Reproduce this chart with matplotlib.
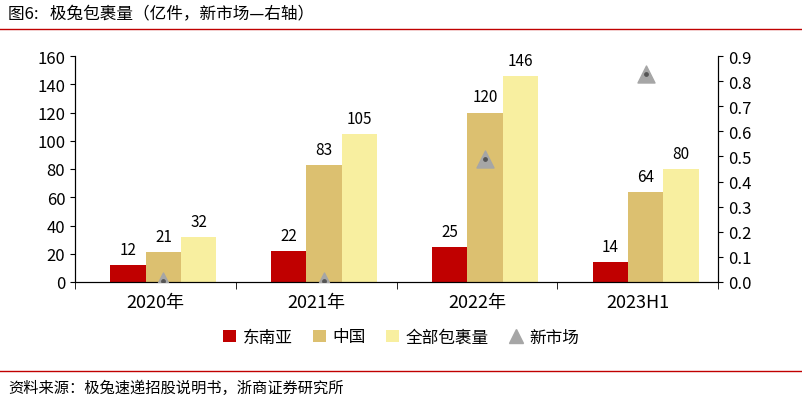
import matplotlib
matplotlib.use("Agg")
import matplotlib.pyplot as plt
import numpy as np

plt.rcParams['font.family'] = ['Noto Sans CJK SC']

categories = ["2020年", "2021年", "2022年", "2023H1"]
sea = [12, 22, 25, 14]
china = [21, 83, 120, 64]
total = [32, 105, 146, 80]
new_market = [0.005, 0.005, 0.49, 0.83]

fig = plt.figure(figsize=(8.02, 4.02), dpi=100)
ax = fig.add_axes([75/802, 1-283/402, (718-75)/802, (283-57)/402])
x = np.arange(len(categories))
off = 0.05
w = 0.22
c1, c2, c3 = "#C00000", "#DCC070", "#F8EFA0"
b1 = ax.bar(x + off - w, sea, w, color=c1)
b2 = ax.bar(x + off, china, w, color=c2)
b3 = ax.bar(x + off + w, total, w, color=c3)
for bars, vals in ((b1, sea), (b2, china), (b3, total)):
    for b, v in zip(bars, vals):
        ax.text(b.get_x() + b.get_width()/2, v + 5, str(v), ha="center", va="bottom", fontsize=11)
ax.set_ylim(0, 160)
ax.set_yticks(range(0, 161, 20))
ax.set_xlim(-0.5, 3.5)
ax.set_xticks(x)
ax.set_xticklabels(categories, fontsize=13)
ax.set_xticks(np.arange(-0.5, 3.6, 1), minor=True)
ax.tick_params(axis="x", which="major", length=0, pad=8)
ax.tick_params(axis="x", which="minor", length=5)
ax.tick_params(axis="y", labelsize=12)
ax.spines["top"].set_visible(False)
ax2 = ax.twinx()
ax2.set_ylim(0, 0.9)
ax2.set_yticks(np.arange(0, 0.91, 0.1))
ax2.set_yticklabels([f"{v:.1f}" for v in np.arange(0, 0.91, 0.1)])
ax2.tick_params(axis="y", labelsize=12)
ax2.spines["top"].set_visible(False)
ax2.scatter(x + off, new_market, marker="^", s=150, color="#A6A6A6", zorder=5)
ax2.scatter(x + off, new_market, marker="o", s=6, color="#555555", zorder=6)

tri = plt.Line2D([], [], marker="^", color="#A6A6A6", ls="none", markersize=10)
fig.legend([b1, b2, b3, tri], ["东南亚", "中国", "全部包裹量", "新市场"], loc="center", bbox_to_anchor=(0.5, 1-338/402),
           ncol=4, frameon=False, fontsize=12, handlelength=0.8, handletextpad=0.4, columnspacing=1.2)

fig.text(8/802, 1-15/402, "图6:   极兔包裹量（亿件，新市场—右轴）", fontsize=12, va="center")
fig.add_artist(plt.Line2D([0, 1], [1-30/402]*2, color="#C00000", lw=1))
fig.add_artist(plt.Line2D([0, 1], [1-372/402]*2, color="#C00000", lw=1))
fig.text(8/802, 1-388/402, "资料来源：极兔速递招股说明书，浙商证券研究所", fontsize=11, va="center")
fig.savefig("out.png", dpi=100)
